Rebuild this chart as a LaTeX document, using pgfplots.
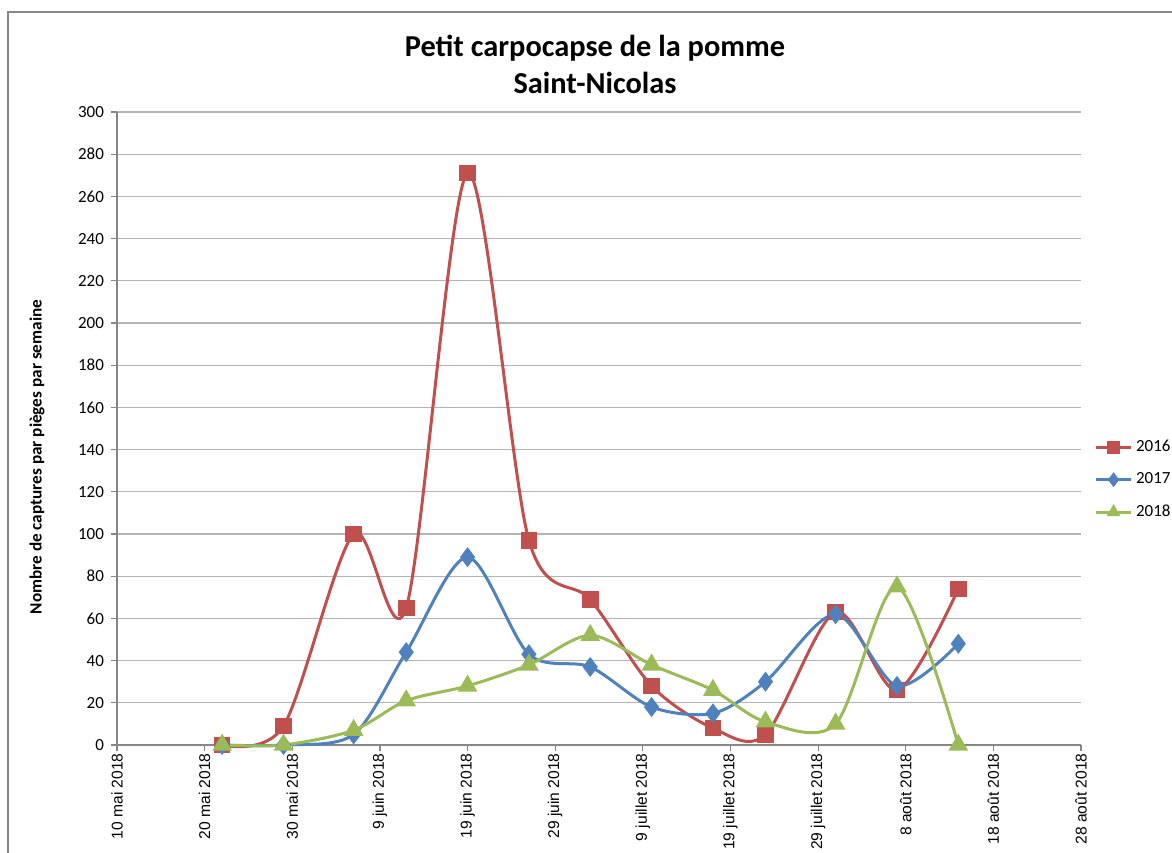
\documentclass[border=0pt]{standalone}
\usepackage{pgfplots}
\pgfplotsset{compat=1.18}
\usepackage{fontspec}
\setmainfont{Carlito}
\newfontfamily\arialfont{Liberation Sans}
\definecolor{xlred}{RGB}{192,80,77}
\definecolor{xlblue}{RGB}{79,129,189}
\definecolor{xlgreen}{RGB}{155,187,89}
\definecolor{axgray}{RGB}{134,134,134}
\definecolor{gridgray}{RGB}{180,180,180}
\begin{document}
\begin{tikzpicture}
\useasboundingbox (0,0) rectangle (586pt,426pt);
\draw[axgray, line width=0.8pt] (4pt,-2pt) -- (4pt,420pt) -- (590pt,420pt);
\node[font=\bfseries\fontsize{15.2}{18.5}\selectfont, align=center] at (297.5pt,394pt) {Petit carpocapse de la pomme\\Saint-Nicolas};
\begin{axis}[
  at={(58.5pt,53.5pt)}, anchor=south west,
  scale only axis, width=482pt, height=316.5pt,
  xmin=0, xmax=110, ymin=0, ymax=300,
  axis x line*=bottom, axis y line*=left,
  axis line style={axgray, line width=0.6pt, -},
  xtick={0,10,...,110},
  xticklabels={10 mai 2018, 20 mai 2018, 30 mai 2018, 9 juin 2018, 19 juin 2018, 29 juin 2018, 9 juillet 2018, 19 juillet 2018, 29 juillet 2018, 8 août 2018, 18 août 2018, 28 août 2018},
  x tick label style={font=\arialfont\fontsize{7.8}{9}\selectfont, rotate=90, anchor=east, inner sep=1pt},
  ytick={0,20,...,300},
  y tick label style={font=\fontsize{8.5}{10}\selectfont, /pgf/number format/assume math mode=true},
  tick align=outside, tick pos=left,
  major tick length=3pt,
  tick style={axgray, line width=0.6pt},
  ymajorgrids, grid style={gridgray, line width=0.6pt},
  ylabel={Nombre de captures par pièges par semaine},
  every axis y label/.style={at={(axis description cs:-0.083,0.455)}, rotate=90, anchor=center, font=\bfseries\fontsize{8.6}{10}\selectfont},
  clip=false,
  legend style={at={(1.012,0.419)}, anchor=west, draw=none, fill=none, font=\fontsize{8.5}{10}\selectfont, row sep=5pt, inner sep=1pt},
  legend cell align=left,
  legend image code/.code={\draw[mark repeat=2,mark phase=2,mark size=2.5pt] plot coordinates {(0cm,0cm)(0.3cm,0cm)(0.6cm,0cm)};},
]
\addplot[xlred, line width=1.5pt, smooth, tension=0.5, mark=square*, mark size=3.4pt, mark options={solid, fill=xlred}] coordinates {
(12,0) (19,9) (27,100) (33,65) (40,271) (47,97) (54,69) (61,28) (68,8) (74,5) (82,63) (89,26) (96,74)};
\addlegendentry{2016}
\addplot[xlblue, line width=1.5pt, smooth, tension=0.5, mark=diamond*, mark size=3.8pt, mark options={solid, fill=xlblue}] coordinates {
(12,0) (19,0) (27,5) (33,44) (40,89) (47,43) (54,37) (61,18) (68,15) (74,30) (82,62) (89,28) (96,48)};
\addlegendentry{2017}
\addplot[xlgreen, line width=1.5pt, smooth, tension=0.5, mark=triangle*, mark size=4.2pt, mark options={solid, fill=xlgreen}] coordinates {
(12,0) (19,0) (27,7) (33,21) (40,28) (47,38) (54,52) (61,38) (68,26) (74,11) (82,10) (89,75) (96,0)};
\addlegendentry{2018}
\end{axis}
\end{tikzpicture}
\end{document}
